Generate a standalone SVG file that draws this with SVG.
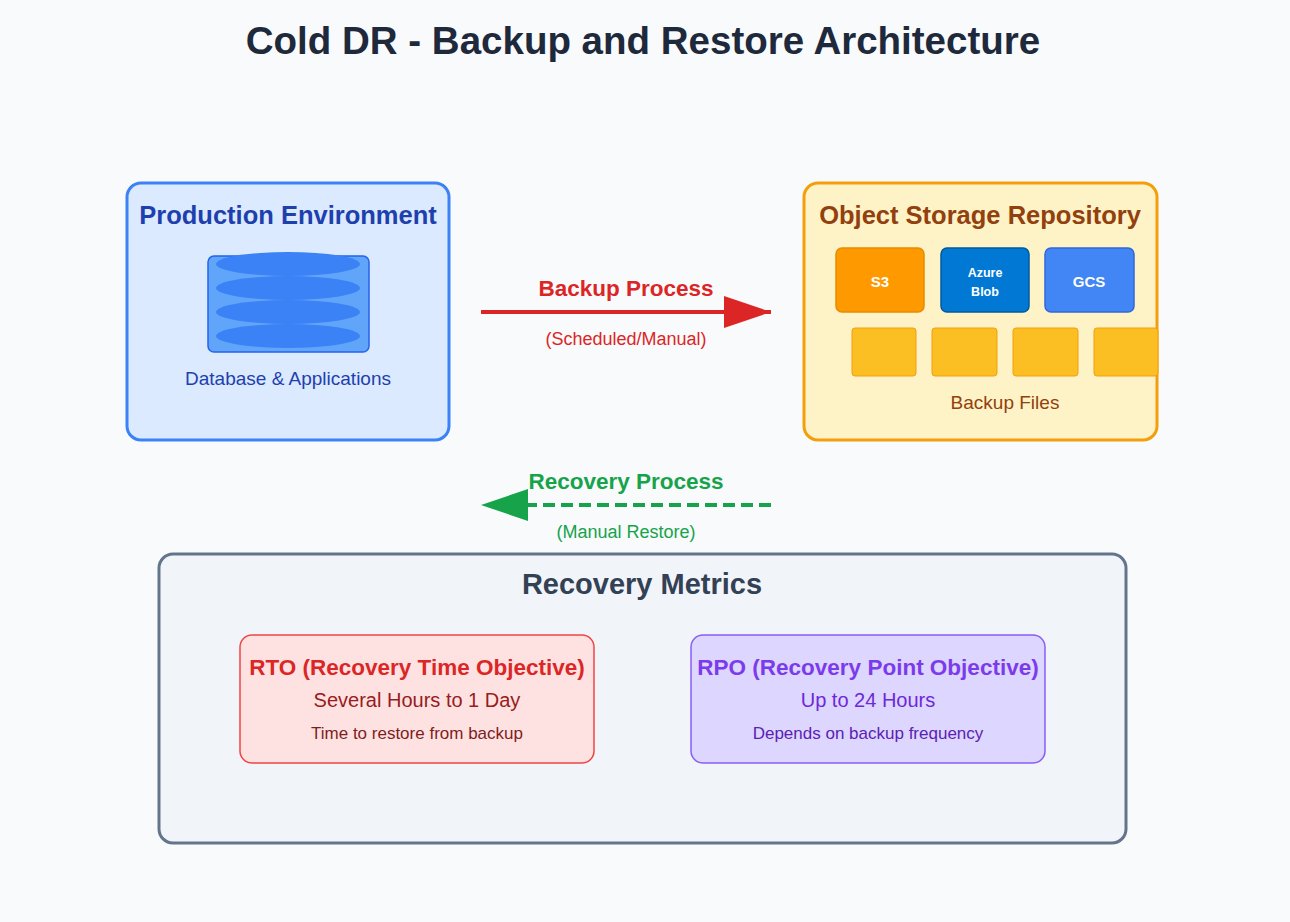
<svg xmlns="http://www.w3.org/2000/svg" width="1290" height="922" viewBox="0 0 1290 922">
<defs>
<style>
text{font-family:"Liberation Sans",Arial,sans-serif;text-anchor:middle}
.b{font-weight:bold}
.file{fill:#fbbf24;stroke:#f59e0b;stroke-width:1}
.ell{fill:#3b82f6}
</style>
</defs>
<rect width="1290" height="922" fill="#f8fafc"/>
<text x="643" y="54" class="b" font-size="38.5" fill="#1e293b">Cold DR - Backup and Restore Architecture</text>
<g id="production">
<rect x="127" y="183" width="322" height="257" rx="14" fill="#dbeafe" stroke="#3b82f6" stroke-width="3"/>
<text x="288" y="224" class="b" font-size="25.5" fill="#1e40af">Production Environment</text>
<rect x="208" y="256" width="161" height="96" rx="6" fill="#60a5fa" stroke="#2563eb" stroke-width="1.5"/>
<ellipse class="ell" cx="288" cy="264" rx="72" ry="12"/>
<ellipse class="ell" cx="288" cy="288" rx="72" ry="12"/>
<ellipse class="ell" cx="288" cy="312" rx="72" ry="12"/>
<ellipse class="ell" cx="288" cy="336" rx="72" ry="12"/>
<text x="288" y="385" font-size="19" fill="#1e40af">Database &amp; Applications</text>
</g>
<g id="storage">
<rect x="804" y="183" width="353" height="257" rx="14" fill="#fef3c7" stroke="#f59e0b" stroke-width="3"/>
<text x="980" y="224" class="b" font-size="25.5" fill="#92400e">Object Storage Repository</text>
<rect x="836" y="248" width="88" height="64" rx="6" fill="#ff9900" stroke="#e68a00" stroke-width="1.5"/>
<text x="880" y="287" class="b" font-size="15" fill="#fff">S3</text>
<rect x="941" y="248" width="88" height="64" rx="6" fill="#0078d4" stroke="#005a9e" stroke-width="1.5"/>
<text x="985" y="277" class="b" font-size="12.5" fill="#fff">Azure</text>
<text x="985" y="296" class="b" font-size="12.5" fill="#fff">Blob</text>
<rect x="1045" y="248" width="89" height="64" rx="6" fill="#4285f4" stroke="#3367d6" stroke-width="1.5"/>
<text x="1089" y="287" class="b" font-size="15" fill="#fff">GCS</text>
<rect class="file" x="852" y="328" width="64" height="48" rx="3"/>
<rect class="file" x="932" y="328" width="65" height="48" rx="3"/>
<rect class="file" x="1013" y="328" width="65" height="48" rx="3"/>
<rect class="file" x="1094" y="328" width="64" height="48" rx="3"/>
<text x="1005" y="409" font-size="19" fill="#92400e">Backup Files</text>
</g>
<g id="connectors">
<line x1="481" y1="312" x2="771" y2="312" stroke="#dc2626" stroke-width="4"/>
<path d="M724,296L771,312L724,328z" fill="#dc2626"/>
<text x="626" y="296" class="b" font-size="22.5" fill="#dc2626">Backup Process</text>
<text x="626" y="345" font-size="18" fill="#dc2626">(Scheduled/Manual)</text>
<line x1="771" y1="505" x2="528" y2="505" stroke="#16a34a" stroke-width="4" stroke-dasharray="12,6"/>
<path d="M528,489L481,505L528,521z" fill="#16a34a"/>
<text x="626" y="489" class="b" font-size="22.5" fill="#16a34a">Recovery Process</text>
<text x="626" y="538" font-size="18" fill="#16a34a">(Manual Restore)</text>
</g>
<g id="metrics">
<rect x="159" y="554" width="967" height="289" rx="14" fill="#f1f5f9" stroke="#64748b" stroke-width="3"/>
<text x="642" y="594" class="b" font-size="29" fill="#334155">Recovery Metrics</text>
</g>
<g id="rto">
<rect x="240" y="635" width="354" height="128" rx="12" fill="#fee2e2" stroke="#ef4444" stroke-width="1.5"/>
<text x="417" y="675" class="b" font-size="22.5" fill="#dc2626">RTO (Recovery Time Objective)</text>
<text x="417" y="707" font-size="20" fill="#991b1b">Several Hours to 1 Day</text>
<text x="417" y="739" font-size="17" fill="#7f1d1d">Time to restore from backup</text>
</g>
<g id="rpo">
<rect x="691" y="635" width="354" height="128" rx="12" fill="#ddd6fe" stroke="#8b5cf6" stroke-width="1.5"/>
<text x="868" y="675" class="b" font-size="22.5" fill="#7c3aed">RPO (Recovery Point Objective)</text>
<text x="868" y="707" font-size="20" fill="#6d28d9">Up to 24 Hours</text>
<text x="868" y="739" font-size="17" fill="#5b21b6">Depends on backup frequency</text>
</g>
</svg>
